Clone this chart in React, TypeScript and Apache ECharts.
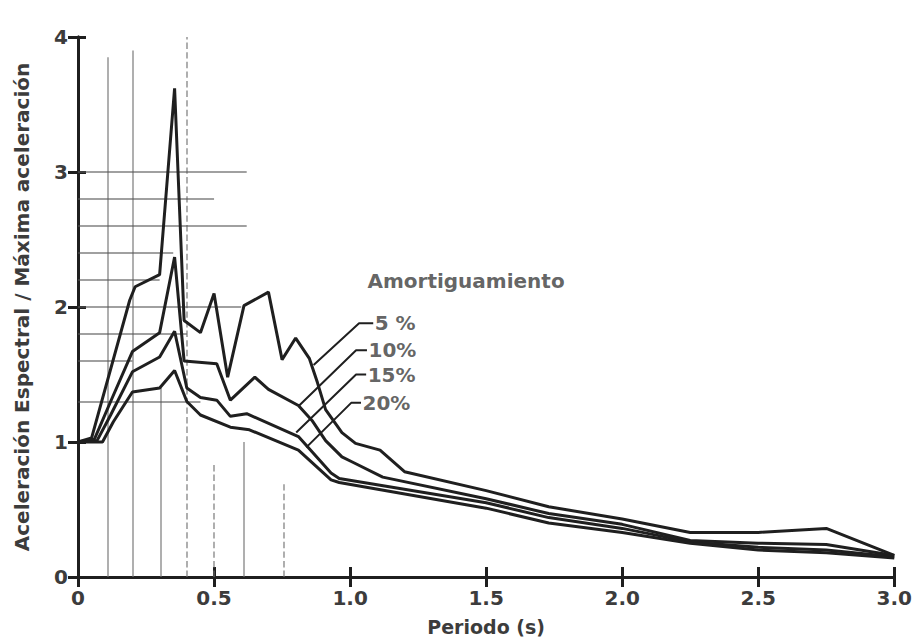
import React, { useEffect, useRef } from "react";
import * as echarts from "echarts";

// Spectral acceleration / peak acceleration vs period, by damping ratio
const damp5: [number, number][] = [
  [0, 1.0], [0.05, 1.03], [0.19, 2.05], [0.21, 2.15], [0.3, 2.24], [0.355, 3.62],
  [0.39, 1.9], [0.45, 1.81], [0.5, 2.1], [0.55, 1.48], [0.61, 2.01], [0.7, 2.11],
  [0.75, 1.61], [0.8, 1.77], [0.85, 1.62], [0.88, 1.44], [0.91, 1.24], [0.97, 1.07],
  [1.02, 0.99], [1.11, 0.94], [1.2, 0.78], [1.5, 0.64], [1.73, 0.52], [2.0, 0.43],
  [2.25, 0.33], [2.5, 0.33], [2.75, 0.36], [3.0, 0.16],
];
const damp10: [number, number][] = [
  [0, 1.0], [0.06, 1.02], [0.12, 1.3], [0.2, 1.67], [0.3, 1.81], [0.355, 2.37],
  [0.39, 1.6], [0.51, 1.58], [0.56, 1.31], [0.65, 1.48], [0.7, 1.39], [0.81, 1.27],
  [0.86, 1.16], [0.91, 1.01], [0.97, 0.89], [1.01, 0.85], [1.12, 0.74], [1.5, 0.58],
  [1.73, 0.47], [2.0, 0.39], [2.25, 0.27], [2.5, 0.25], [2.75, 0.24], [3.0, 0.16],
];
const damp15: [number, number][] = [
  [0, 1.0], [0.07, 1.01], [0.12, 1.2], [0.2, 1.52], [0.3, 1.63], [0.355, 1.82],
  [0.4, 1.4], [0.45, 1.33], [0.51, 1.31], [0.56, 1.19], [0.62, 1.21], [0.81, 1.04],
  [0.93, 0.77], [0.96, 0.73], [1.5, 0.55], [1.73, 0.44], [2.0, 0.36], [2.25, 0.26],
  [2.5, 0.22], [2.75, 0.2], [3.0, 0.15],
];
const damp20: [number, number][] = [
  [0, 1.0], [0.09, 1.0], [0.13, 1.15], [0.2, 1.37], [0.3, 1.4], [0.355, 1.53],
  [0.4, 1.3], [0.45, 1.2], [0.56, 1.11], [0.63, 1.09], [0.81, 0.94], [0.93, 0.72],
  [0.96, 0.7], [1.5, 0.51], [1.73, 0.4], [2.0, 0.33], [2.25, 0.25], [2.5, 0.2],
  [2.75, 0.18], [3.0, 0.14],
];

const curveNames = ["5 %", "10%", "15%", "20%"];
// leader lines: [curve point, bend point, label point]
const leader5: [number, number][] = [[0.866, 1.57], [1.033, 1.88], [1.085, 1.88]];
const leader10: [number, number][] = [[0.813, 1.27], [1.022, 1.68], [1.062, 1.68]];
const leader15: [number, number][] = [[0.802, 1.07], [1.022, 1.5], [1.059, 1.5]];
const leader20: [number, number][] = [[0.839, 0.96], [1.004, 1.29], [1.04, 1.29]];
const legendTitle = "Amortiguamiento";
const legendTitlePos: [number, number] = [1.062, 2.19];

// faint show-through grid lines of the scanned original: [x, yFrom, yTo] and [y, xFrom, xTo]
const ghostVertical: [number, number, number][] = [
  [0.11, 0, 3.85], [0.2, 0, 3.9], [0.305, 0, 1.4], [0.4, 0, 4.0],
  [0.5, 0, 0.85], [0.61, 0, 1.0], [0.755, 0, 0.7],
];
const ghostHorizontal: [number, number, number][] = [
  [3.0, 0, 0.62], [2.8, 0, 0.5], [2.6, 0, 0.62], [2.4, 0, 0.35], [2.2, 0, 0.3],
  [2.0, 0, 0.6], [1.8, 0, 0.4], [1.6, 0, 0.2], [1.3, 0, 0.45],
];

const xTitle = "Periodo (s)";
const yTitle = "Aceleración Espectral / Máxima aceleración";

const INK = "#1f1f1f";
const TEXT = "#3c3c3c";
const FONT = "DejaVu Sans";

export default function App() {
  const ref = useRef<HTMLDivElement>(null);
  useEffect(() => {
    document.body.style.margin = "0";
    const chart = echarts.init(ref.current!, null, { renderer: "svg" });
    const curves = [damp5, damp10, damp15, damp20];
    const leaders = [leader5, leader10, leader15, leader20];
    const curveSeries = curves.map((d, i) => ({
      type: "line",
      name: curveNames[i],
      data: d,
      symbol: "none",
      lineStyle: { color: INK, width: 3 },
      z: 5,
    }));
    const leaderSeries = leaders.map((d) => ({
      type: "line",
      data: d,
      symbol: "none",
      lineStyle: { color: INK, width: 2 },
      z: 6,
    }));
    const textStyle = {
      color: TEXT,
      fontFamily: FONT,
      fontWeight: "bold",
    };
    const labelSeries = {
      type: "scatter",
      symbolSize: 1,
      itemStyle: { color: "rgba(0,0,0,0)" },
      silent: true,
      z: 7,
      data: [
        ...leaders.map((d, i) => ({
          value: d[d.length - 1],
          label: {
            show: true,
            position: "right",
            distance: 1,
            formatter: curveNames[i],
            ...textStyle,
            fontSize: 20,
          },
        })),
        {
          value: legendTitlePos,
          label: {
            show: true,
            position: "right",
            distance: 0,
            formatter: legendTitle,
            ...textStyle,
            fontSize: 20,
          },
        },
      ],
    };
    const ghost = {
      type: "line",
      data: [],
      silent: true,
      markLine: {
        silent: true,
        symbol: "none",
        animation: false,
        label: { show: false },
        emphasis: { disabled: true },
        data: [
          ...ghostVertical.map(([x, y0, y1], i) => [
            {
              coord: [x, y0],
              lineStyle: {
                color: "#707070",
                width: 1.6,
                type: i === 3 || i === 4 || i === 6 ? "dashed" : "solid",
                opacity: 0.7,
              },
            },
            { coord: [x, y1] },
          ]),
          ...ghostHorizontal.map(([y, x0, x1]) => [
            { coord: [x0, y], lineStyle: { color: "#555", width: 1.6, type: "solid", opacity: 0.75 } },
            { coord: [x1, y] },
          ]),
        ],
      },
      z: 1,
    };

    const axisLabelStyle = { ...textStyle, fontSize: 20 };

    chart.setOption({
      animation: false,
      backgroundColor: "#ffffff",
      grid: { left: 78, right: 18, top: 37, bottom: 65, containLabel: false },
      xAxis: [
        {
          type: "value",
          min: 0,
          max: 3,
          interval: 0.5,
          position: "bottom",
          name: xTitle,
          nameLocation: "middle",
          nameGap: 40,
          nameTextStyle: { ...textStyle, fontSize: 19 },
          axisLine: { show: true, lineStyle: { color: INK, width: 3 } },
          axisTick: { show: true, inside: true, length: 10, lineStyle: { color: INK, width: 3 } },
          axisLabel: {
            ...axisLabelStyle,
            margin: 11,
            formatter: (v: number) => (v === 0 ? "0" : v.toFixed(1)),
          },
          splitLine: { show: false },
        },
        {
          type: "value",
          min: 0,
          max: 3,
          interval: 0.5,
          position: "top",
          axisLine: { show: true, lineStyle: { color: INK, width: 3 } },
          axisTick: { show: true, inside: true, length: 10, lineStyle: { color: INK, width: 3 } },
          axisLabel: { show: false },
          splitLine: { show: false },
        },
      ],
      yAxis: [
        {
          type: "value",
          min: 0,
          max: 4,
          interval: 1,
          position: "left",
          name: yTitle,
          nameLocation: "middle",
          nameGap: 46,
          nameRotate: 90,
          nameTextStyle: { ...textStyle, fontSize: 20 },
          axisLine: { show: true, lineStyle: { color: INK, width: 3 } },
          axisTick: { show: true, inside: true, length: 8, lineStyle: { color: INK, width: 3 } },
          axisLabel: { ...axisLabelStyle, margin: 10 },
          splitLine: { show: false },
        },
        {
          type: "value",
          min: 0,
          max: 4,
          interval: 1,
          position: "right",
          axisLine: { show: true, lineStyle: { color: INK, width: 3 } },
          axisTick: { show: true, inside: true, length: 10, lineStyle: { color: INK, width: 3 } },
          axisLabel: { show: false },
          splitLine: { show: false },
        },
      ],
      series: [ghost, ...curveSeries, ...leaderSeries, labelSeries],
    });
    return () => chart.dispose();
  }, []);
  return <div ref={ref} style={{ width: 915, height: 642 }} />;
}
